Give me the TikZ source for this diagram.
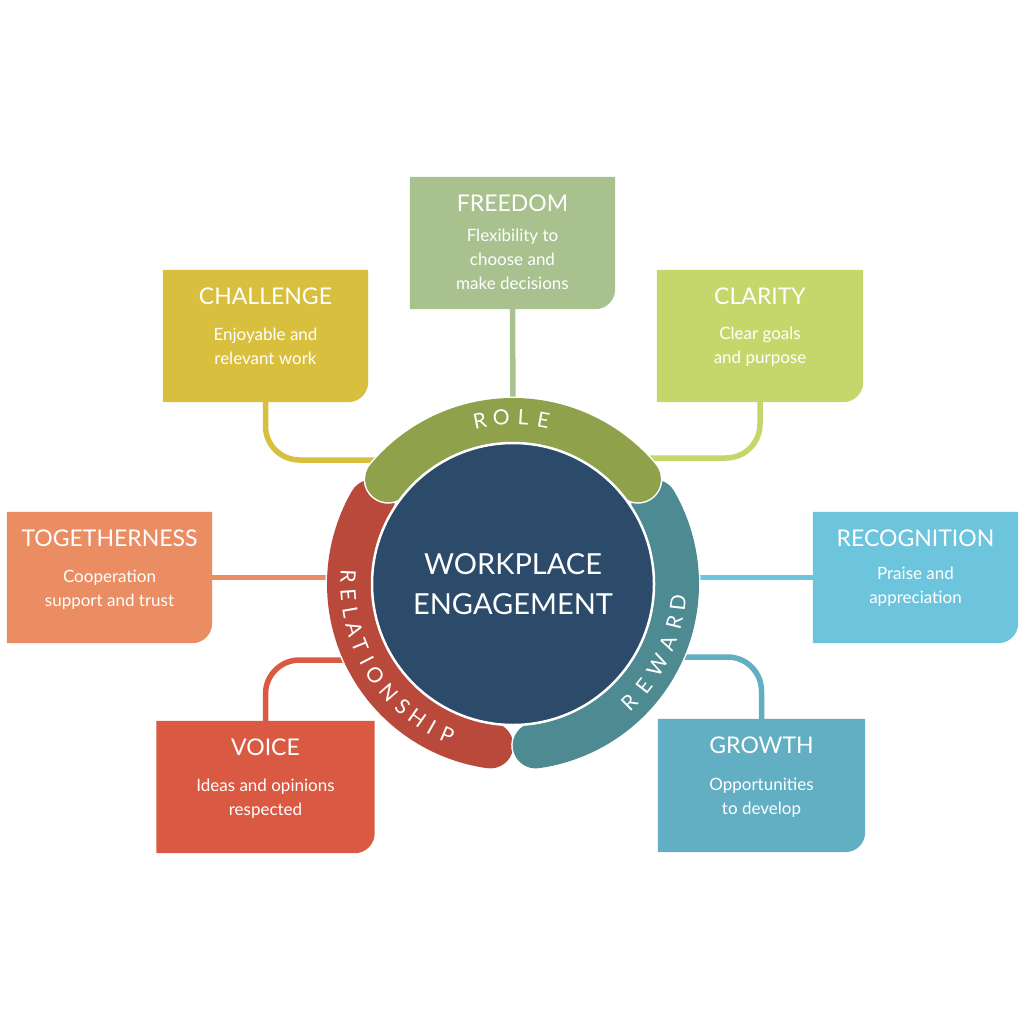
\documentclass[tikz,border=0pt]{standalone}
\usepackage{fontspec}
\setmainfont{Lato}
\definecolor{freedomC}{HTML}{A8C18E}
\definecolor{challengeC}{HTML}{D9BF3E}
\definecolor{clarityC}{HTML}{C5D76B}
\definecolor{recogC}{HTML}{6DC4DD}
\definecolor{growthC}{HTML}{62AEC3}
\definecolor{togC}{HTML}{EA8D63}
\definecolor{voiceC}{HTML}{DA5942}
\definecolor{navyC}{HTML}{2C4A6A}
\definecolor{roleC}{HTML}{8FA24B}
\definecolor{relC}{HTML}{B8493B}
\definecolor{rewC}{HTML}{4E8A92}
\tikzset{
  boxshape/.style={rectangle, inner sep=0pt, draw=none},
  titletext/.style={text=white, font=\fontsize{23}{26}\selectfont, inner sep=0pt},
  bodytext/.style={text=white, font=\fontsize{17}{24}\selectfont, inner sep=0pt, align=center},
  link/.style={line width=5.5pt},
  bandletter/.style={text=white, font=\fontsize{21}{24}\selectfont, inner sep=0pt},
}
% name, cx, cy, w, h, colour, title, body, body top offset
\newcommand\ebox[9]{%
  \node[boxshape, minimum width=#4pt, minimum height=#5pt] (#1) at (#2,-#3) {};
  \fill[#6] (#1.north west) -- (#1.north east) -- ([yshift=20pt]#1.south east)
     arc[start angle=0, end angle=-90, radius=20pt] -- (#1.south west) -- cycle;
  \node[titletext, anchor=base] (#1-t) at ([yshift=-35pt]#1.north) {#7};
  \node[bodytext, anchor=north] (#1-b) at ([yshift=-#9pt]#1.north) {\rule{0pt}{14pt}#8};
}
\begin{document}
\begin{tikzpicture}[x=1pt,y=1pt]
\useasboundingbox (0,0) rectangle (1024,-1024);
\fill[white] (0,0) rectangle (1024,-1024);
\coordinate (ctr) at (513,-584);

% boxes
\ebox{free}{512.5}{243}{205}{132}{freedomC}{FREEDOM}{Flexibility to\\choose and\\make decisions}{50}
\ebox{chal}{265.5}{336}{205}{132}{challengeC}{CHALLENGE}{Enjoyable and\\relevant work}{56}
\ebox{clar}{760}{336}{206}{132}{clarityC}{CLARITY}{Clear goals\\and purpose}{55}
\ebox{reco}{915.5}{577.5}{205}{131}{recogC}{RECOGNITION}{Praise and\\appreciation}{53}
\ebox{grow}{761.5}{785.5}{207}{133}{growthC}{GROWTH}{Opportunities\\to develop}{57}
\ebox{tog}{109.5}{577.5}{205}{131}{togC}{TOGETHERNESS}{Cooperation\\support and trust}{56}
\ebox{voice}{265.5}{787}{218}{132}{voiceC}{VOICE}{Ideas and opinions\\respected}{56}

% connectors
\coordinate (freeE) at (513,-410);
\draw[link, freedomC] (free.south) -- (freeE);
\coordinate (chalE) at (385,-460);
\draw[link, challengeC, rounded corners=34pt] (chal.south) |- (chalE);
\coordinate (clarE) at (640,-458);
\draw[link, clarityC, rounded corners=34pt] (clar.south) |- (clarE);
\coordinate (recoE) at (690,-577.5);
\draw[link, recogC] (reco.west) -- (recoE);
\coordinate (growE) at (668,-657);
\draw[link, growthC, rounded corners=34pt] (grow.north) |- (growE);
\coordinate (togE) at (345,-577.5);
\draw[link, togC] (tog.east) -- (togE);
\coordinate (voiceE) at (355,-660);
\draw[link, voiceC, rounded corners=34pt] (voice.north) |- (voiceE);

% bands
\foreach \c/\s/\e in {relC/150/262, rewC/30/-82, roleC/40/140} {
  \draw[white, line width=49pt, line cap=round] ([shift={(\s:163pt)}]ctr) arc[start angle=\s, end angle=\e, radius=163pt];
  \draw[\c, line width=46pt, line cap=round] ([shift={(\s:163pt)}]ctr) arc[start angle=\s, end angle=\e, radius=163pt];
}

% core
\node[circle, fill=navyC, draw=white, line width=2.5pt, minimum size=282pt, inner sep=0pt,
      text=white, align=center, font=\fontsize{29}{40}\selectfont] (core) at (ctr) {WORKPLACE\\ENGAGEMENT};

% band labels
\foreach \ch/\a [count=\i] in {R/101.5,O/94,L/86.5,E/79.5}
  \node[bandletter, rotate=\a-90] (role\i) at ([shift={(\a:167pt)}]ctr) {\ch};
\foreach \ch/\a [count=\i] in {R/177.5,E/184,L/190,A/195.8,T/202,I/207.6,O/213.8,N/221,S/228,H/234.5,I/240.5,P/246.5}
  \node[bandletter, rotate=\a+90] (rel\i) at ([shift={(\a:165pt)}]ctr) {\ch};
\foreach \ch/\a [count=\i] in {R/-45.5,E/-38,W/-29.5,A/-21,R/-13.5,D/-6.5}
  \node[bandletter, rotate=\a+90] (rew\i) at ([shift={(\a:166pt)}]ctr) {\ch};
\end{tikzpicture}
\end{document}
